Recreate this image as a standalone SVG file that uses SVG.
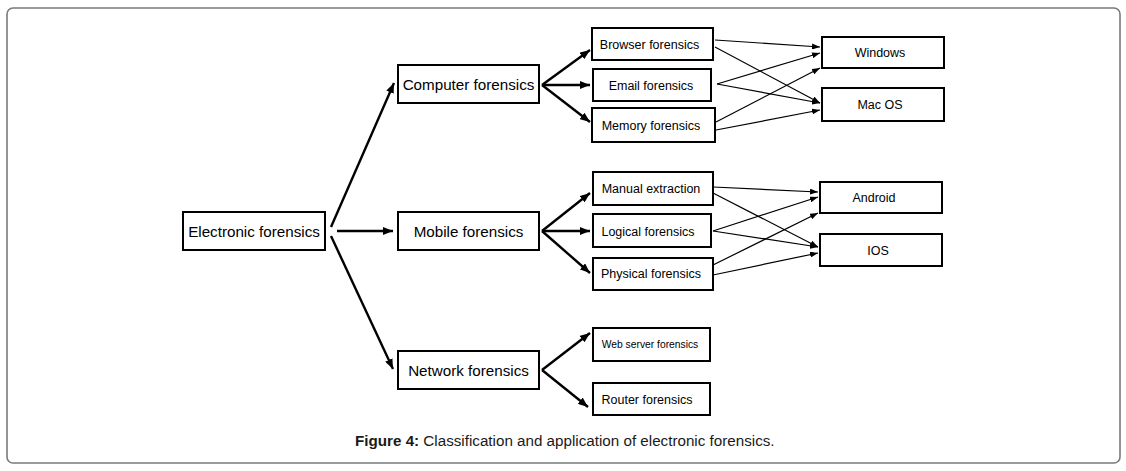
<svg xmlns="http://www.w3.org/2000/svg" width="1126" height="471" viewBox="0 0 1126 471">
<style>
  .box { fill: #fff; stroke: #000; stroke-width: 2; }
  .t1 { font-family: "Liberation Sans", Arial, sans-serif; font-size: 15.2px; fill: #000; text-anchor: middle; }
  .t2 { font-family: "Liberation Sans", Arial, sans-serif; font-size: 12.5px; fill: #000; text-anchor: middle; }
  .t3 { font-family: "Liberation Sans", Arial, sans-serif; font-size: 10.3px; fill: #000; text-anchor: middle; }
  .bold { stroke: #000; stroke-width: 2.4; fill: none; marker-end: url(#ab); }
  .thin { stroke: #000; stroke-width: 1.2; fill: none; marker-end: url(#at); }
  .cap { font-family: "Liberation Sans", Arial, sans-serif; font-size: 15.2px; fill: #1a1a1a; }
</style>
<defs>
  <marker id="ab" viewBox="0 0 10 8" refX="10" refY="4" markerWidth="10" markerHeight="8" markerUnits="userSpaceOnUse" orient="auto">
    <path d="M0,0 L10,4 L0,8 z" fill="#000"/>
  </marker>
  <marker id="at" viewBox="0 0 8 6" refX="8" refY="3" markerWidth="8" markerHeight="6" markerUnits="userSpaceOnUse" orient="auto">
    <path d="M0,0 L8,3 L0,6 z" fill="#000"/>
  </marker>
</defs>
<rect x="0" y="0" width="1126" height="471" fill="#fff"/>
<rect x="7" y="8" width="1113" height="455" rx="6" ry="6" fill="none" stroke="#7a7a7a" stroke-width="1.6"/>

<g id="connectors">
  <line class="bold" x1="331" y1="227" x2="394" y2="83"/>
  <line class="bold" x1="337" y1="231" x2="393" y2="231"/>
  <line class="bold" x1="331" y1="236" x2="393" y2="369"/>

  <line class="bold" x1="542" y1="85" x2="590" y2="50"/>
  <line class="bold" x1="542" y1="85" x2="590" y2="85"/>
  <line class="bold" x1="542" y1="85" x2="590" y2="122"/>

  <line class="bold" x1="542" y1="231" x2="590" y2="193"/>
  <line class="bold" x1="542" y1="231" x2="590" y2="231"/>
  <line class="bold" x1="542" y1="231" x2="590" y2="273"/>

  <line class="bold" x1="542" y1="370" x2="590" y2="333"/>
  <line class="bold" x1="542" y1="370" x2="588" y2="407"/>

  <line class="thin" x1="715" y1="40" x2="820" y2="47"/>
  <line class="thin" x1="715" y1="47" x2="820" y2="103"/>
  <line class="thin" x1="717" y1="84" x2="820" y2="53"/>
  <line class="thin" x1="717" y1="84" x2="820" y2="103"/>
  <line class="thin" x1="716" y1="122" x2="820" y2="68"/>
  <line class="thin" x1="716" y1="130" x2="820" y2="110"/>

  <line class="thin" x1="713" y1="187" x2="818" y2="192"/>
  <line class="thin" x1="713" y1="193" x2="818" y2="247"/>
  <line class="thin" x1="713" y1="231" x2="818" y2="197"/>
  <line class="thin" x1="713" y1="231" x2="818" y2="247"/>
  <line class="thin" x1="713" y1="265" x2="818" y2="213"/>
  <line class="thin" x1="713" y1="275" x2="818" y2="253"/>
</g>

<g id="electronic"><rect class="box" x="183" y="212" width="142" height="38"/><text class="t1" x="254" y="236.5">Electronic forensics</text></g>
<g id="computer"><rect class="box" x="398" y="65" width="141" height="38"/><text class="t1" x="468.5" y="89.5">Computer forensics</text></g>
<g id="mobile"><rect class="box" x="398" y="212" width="141" height="38"/><text class="t1" x="468.5" y="236.5">Mobile forensics</text></g>
<g id="network"><rect class="box" x="398" y="351" width="141" height="38"/><text class="t1" x="468.5" y="375.5">Network forensics</text></g>

<g id="browser"><rect class="box" x="592" y="28" width="121" height="32"/><text class="t2" x="649.5" y="49">Browser forensics</text></g>
<g id="email"><rect class="box" x="593" y="69" width="118" height="32"/><text class="t2" x="651" y="89.5">Email forensics</text></g>
<g id="memory"><rect class="box" x="592" y="108" width="123" height="34"/><text class="t2" x="651" y="130">Memory forensics</text></g>

<g id="manual"><rect class="box" x="593" y="172" width="120" height="33"/><text class="t2" x="651" y="193">Manual extraction</text></g>
<g id="logical"><rect class="box" x="593" y="214" width="118" height="33"/><text class="t2" x="648" y="235.5">Logical forensics</text></g>
<g id="physical"><rect class="box" x="593" y="258" width="120" height="32"/><text class="t2" x="651" y="278">Physical forensics</text></g>

<g id="webserver"><rect class="box" x="593" y="328" width="117" height="33"/><text class="t3" x="650" y="348">Web server forensics</text></g>
<g id="router"><rect class="box" x="593" y="383" width="117" height="32"/><text class="t2" x="647" y="403.5">Router forensics</text></g>

<g id="windows"><rect class="box" x="822" y="37" width="122" height="31"/><text class="t2" x="880" y="57">Windows</text></g>
<g id="macos"><rect class="box" x="822" y="88" width="122" height="33"/><text class="t2" x="880" y="109">Mac OS</text></g>
<g id="android"><rect class="box" x="820" y="182" width="122" height="31"/><text class="t2" x="874" y="202">Android</text></g>
<g id="ios"><rect class="box" x="820" y="234" width="122" height="32"/><text class="t2" x="878" y="254.5">IOS</text></g>

<text class="cap" x="355" y="446"><tspan font-weight="bold">Figure 4:</tspan> Classification and application of electronic forensics.</text>
</svg>
